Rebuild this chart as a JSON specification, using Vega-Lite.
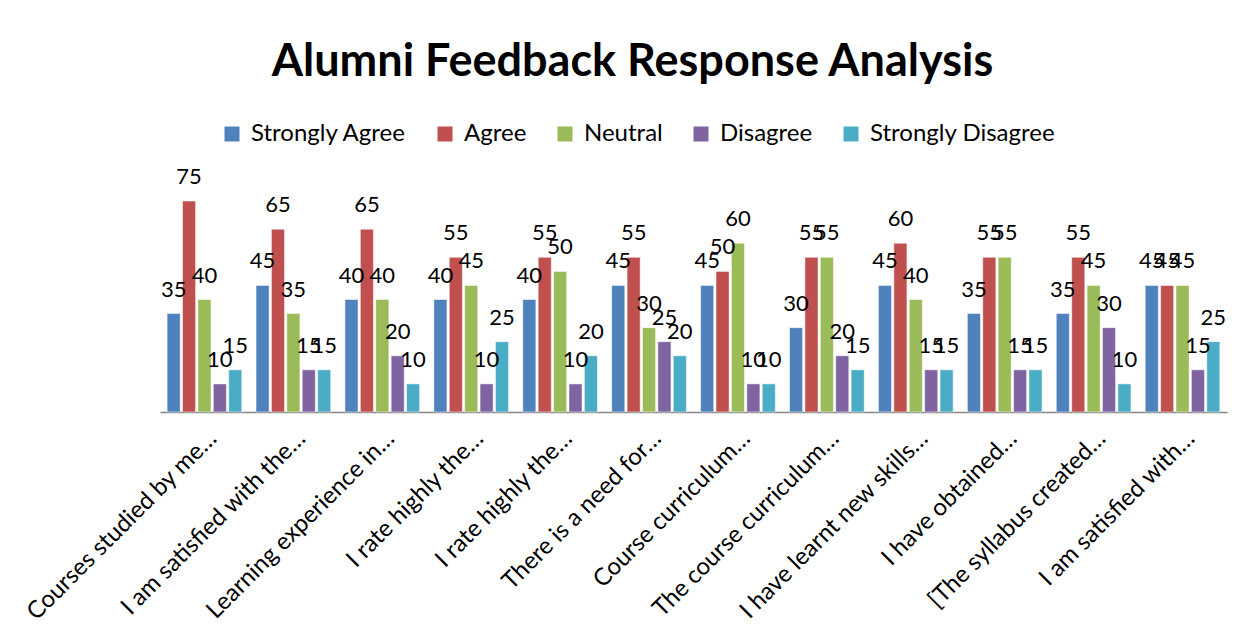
{
  "$schema": "https://vega.github.io/schema/vega-lite/v6.json",
  "width": 1067,
  "height": 225,
  "autosize": {"type": "none"},
  "padding": {"left": 160, "top": 187, "right": 14, "bottom": 225},
  "background": "white",
  "title": {"text": "Alumni Feedback Response Analysis", "font": "Lato", "fontSize": 45, "fontWeight": "bold", "color": "black", "anchor": "middle", "frame": "group", "dx": -61, "baseline": "alphabetic", "offset": 1},
  "data": {"values": [
    {"q": "Courses studied by me…|1", "r": "Strongly Agree", "v": 35},
    {"q": "Courses studied by me…|1", "r": "Agree", "v": 75},
    {"q": "Courses studied by me…|1", "r": "Neutral", "v": 40},
    {"q": "Courses studied by me…|1", "r": "Disagree", "v": 10},
    {"q": "Courses studied by me…|1", "r": "Strongly Disagree", "v": 15},
    {"q": "I am satisfied with the…|2", "r": "Strongly Agree", "v": 45},
    {"q": "I am satisfied with the…|2", "r": "Agree", "v": 65},
    {"q": "I am satisfied with the…|2", "r": "Neutral", "v": 35},
    {"q": "I am satisfied with the…|2", "r": "Disagree", "v": 15},
    {"q": "I am satisfied with the…|2", "r": "Strongly Disagree", "v": 15},
    {"q": "Learning experience in…|3", "r": "Strongly Agree", "v": 40},
    {"q": "Learning experience in…|3", "r": "Agree", "v": 65},
    {"q": "Learning experience in…|3", "r": "Neutral", "v": 40},
    {"q": "Learning experience in…|3", "r": "Disagree", "v": 20},
    {"q": "Learning experience in…|3", "r": "Strongly Disagree", "v": 10},
    {"q": "I rate highly the…|4", "r": "Strongly Agree", "v": 40},
    {"q": "I rate highly the…|4", "r": "Agree", "v": 55},
    {"q": "I rate highly the…|4", "r": "Neutral", "v": 45},
    {"q": "I rate highly the…|4", "r": "Disagree", "v": 10},
    {"q": "I rate highly the…|4", "r": "Strongly Disagree", "v": 25},
    {"q": "I rate highly the…|5", "r": "Strongly Agree", "v": 40},
    {"q": "I rate highly the…|5", "r": "Agree", "v": 55},
    {"q": "I rate highly the…|5", "r": "Neutral", "v": 50},
    {"q": "I rate highly the…|5", "r": "Disagree", "v": 10},
    {"q": "I rate highly the…|5", "r": "Strongly Disagree", "v": 20},
    {"q": "There is a need for…|6", "r": "Strongly Agree", "v": 45},
    {"q": "There is a need for…|6", "r": "Agree", "v": 55},
    {"q": "There is a need for…|6", "r": "Neutral", "v": 30},
    {"q": "There is a need for…|6", "r": "Disagree", "v": 25},
    {"q": "There is a need for…|6", "r": "Strongly Disagree", "v": 20},
    {"q": "Course curriculum…|7", "r": "Strongly Agree", "v": 45},
    {"q": "Course curriculum…|7", "r": "Agree", "v": 50},
    {"q": "Course curriculum…|7", "r": "Neutral", "v": 60},
    {"q": "Course curriculum…|7", "r": "Disagree", "v": 10},
    {"q": "Course curriculum…|7", "r": "Strongly Disagree", "v": 10},
    {"q": "The course curriculum…|8", "r": "Strongly Agree", "v": 30},
    {"q": "The course curriculum…|8", "r": "Agree", "v": 55},
    {"q": "The course curriculum…|8", "r": "Neutral", "v": 55},
    {"q": "The course curriculum…|8", "r": "Disagree", "v": 20},
    {"q": "The course curriculum…|8", "r": "Strongly Disagree", "v": 15},
    {"q": "I have learnt new skills…|9", "r": "Strongly Agree", "v": 45},
    {"q": "I have learnt new skills…|9", "r": "Agree", "v": 60},
    {"q": "I have learnt new skills…|9", "r": "Neutral", "v": 40},
    {"q": "I have learnt new skills…|9", "r": "Disagree", "v": 15},
    {"q": "I have learnt new skills…|9", "r": "Strongly Disagree", "v": 15},
    {"q": "I have obtained…|10", "r": "Strongly Agree", "v": 35},
    {"q": "I have obtained…|10", "r": "Agree", "v": 55},
    {"q": "I have obtained…|10", "r": "Neutral", "v": 55},
    {"q": "I have obtained…|10", "r": "Disagree", "v": 15},
    {"q": "I have obtained…|10", "r": "Strongly Disagree", "v": 15},
    {"q": "[The syllabus created…|11", "r": "Strongly Agree", "v": 35},
    {"q": "[The syllabus created…|11", "r": "Agree", "v": 55},
    {"q": "[The syllabus created…|11", "r": "Neutral", "v": 45},
    {"q": "[The syllabus created…|11", "r": "Disagree", "v": 30},
    {"q": "[The syllabus created…|11", "r": "Strongly Disagree", "v": 10},
    {"q": "I am satisfied with…|12", "r": "Strongly Agree", "v": 45},
    {"q": "I am satisfied with…|12", "r": "Agree", "v": 45},
    {"q": "I am satisfied with…|12", "r": "Neutral", "v": 45},
    {"q": "I am satisfied with…|12", "r": "Disagree", "v": 15},
    {"q": "I am satisfied with…|12", "r": "Strongly Disagree", "v": 25}
  ]},
  "encoding": {
    "x": {
      "field": "q", "type": "nominal", "sort": null,
      "scale": {"paddingInner": 0.16, "paddingOuter": 0.08},
      "axis": {
        "title": null, "labelAngle": -45, "labelFont": "Lato", "labelFontSize": 24, "labelColor": "black",
        "labelLimit": 0, "labelPadding": 14, "labelDx": 6, "ticks": false, "domainColor": "#868686", "domainWidth": 1.5,
        "labelExpr": "split(datum.label, '|')[0]"
      }
    },
    "xOffset": {"field": "r", "type": "nominal", "sort": ["Strongly Agree", "Agree", "Neutral", "Disagree", "Strongly Disagree"], "scale": {"paddingInner": 0.15, "paddingOuter": 0}},
    "y": {"field": "v", "type": "quantitative", "scale": {"domain": [0, 80]}, "axis": null}
  },
  "layer": [
    {
      "mark": {"type": "bar", "stroke": "white", "strokeWidth": 0.5},
      "encoding": {
        "color": {
          "field": "r", "type": "nominal",
          "sort": ["Strongly Agree", "Agree", "Neutral", "Disagree", "Strongly Disagree"],
          "scale": {"domain": ["Strongly Agree", "Agree", "Neutral", "Disagree", "Strongly Disagree"], "range": ["#4F81BD", "#C0504D", "#9BBB59", "#8064A2", "#4BACC6"]},
          "legend": {
            "title": null, "orient": "none", "direction": "horizontal", "legendX": 60, "legendY": -65,
            "symbolType": "square", "symbolSize": 225, "symbolStrokeWidth": 0, "labelLimit": 0,
            "labelFont": "Lato", "labelFontSize": 24, "labelColor": "black", "labelOffset": 7, "columnPadding": 26
          }
        }
      }
    },
    {
      "mark": {"type": "text", "dy": -17, "baseline": "alphabetic", "font": "Lato", "fontSize": 22, "color": "black"},
      "encoding": {"text": {"field": "v", "type": "quantitative"}}
    }
  ],
  "config": {"view": {"stroke": null}}
}
